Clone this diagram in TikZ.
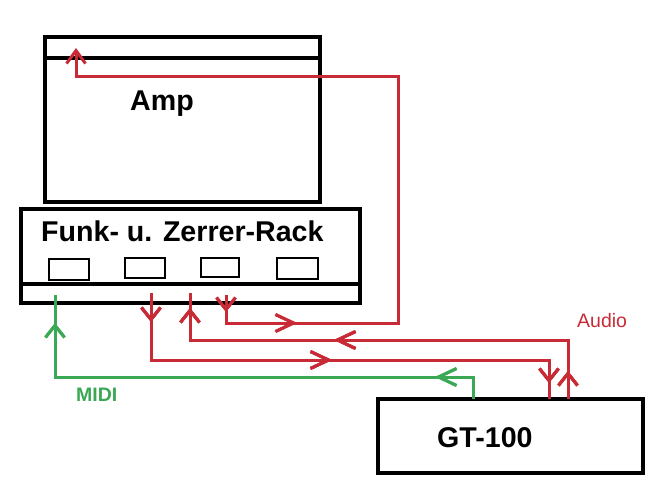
\documentclass[tikz,border=0pt]{standalone}
\usepackage{fontspec}
\setmainfont{Liberation Sans}
\usetikzlibrary{arrows.meta,decorations.markings}
\definecolor{cred}{RGB}{200,42,54}
\definecolor{cgreen}{RGB}{58,168,84}
\tikzset{
  box/.style={draw=black, line width=3.2pt, rectangle, inner sep=0pt},
  port/.style={draw=black, line width=2.6pt, rectangle, inner sep=0pt},
  lbl/.style={anchor=base west, inner sep=0pt, font=\fontsize{28.6}{30}\selectfont\bfseries},
  wire/.style={line width=3pt},
  tip/.style={-{Straight Barb[length=13pt,width=19pt]}},
  arrowat/.style={postaction={decorate}, decoration={markings,
     mark=at position #1 with {\arrow{Straight Barb[length=12pt,width=19pt]}}}},
  harrowat/.style={postaction={decorate}, decoration={markings,
     mark=at position #1 with {\arrow{Straight Barb[length=18pt,width=17pt]}}}},
}
\begin{document}
\begin{tikzpicture}[x=1pt,y=-1pt]
\useasboundingbox (0,0) rectangle (663,493);
% boxes
\node[box, minimum width=275pt, minimum height=165pt] (amp) at (182.5,119.5) {};
\node[box, minimum width=339pt, minimum height=94pt] (rack) at (190.5,256) {};
\node[box, minimum width=265pt, minimum height=74pt] (gt) at (510.5,436) {};
\draw[line width=3.2pt] (45,58) -- (320,58);
\draw[line width=3.2pt] (21,284) -- (362,284);
% ports
\node[port, minimum width=40pt, minimum height=21pt] (q1) at (69,269.5) {};
\node[port, minimum width=40pt, minimum height=20pt] (q2) at (145,268) {};
\node[port, minimum width=38pt, minimum height=19pt] (q3) at (220,267.5) {};
\node[port, minimum width=41pt, minimum height=21pt] (q4) at (297.5,268.5) {};
% labels
\node[lbl] (tamp) at (130,110) {Amp};
\node[lbl] (track) at (41,241) {Funk- u. Zerrer-Rack};
\node[lbl] (tgt) at (437,447) {GT-100};
\node[anchor=base west, inner sep=0pt, text=cred, font=\fontsize{19.5}{21}\selectfont] (taudio) at (577,327) {Audio};
\node[anchor=base west, inner sep=0pt, text=cgreen, font=\fontsize{19.5}{21}\selectfont\bfseries] (tmidi) at (76,401) {MIDI};
% connector end points
\coordinate (r1) at (151,293);
\coordinate (r2) at (190,293);
\coordinate (r3) at (226,295);
\coordinate (rm) at (55,295);
\coordinate (g1) at (549,399);
\coordinate (g2) at (568,399);
\coordinate (gm) at (473,399);
\coordinate (ain) at (76,48);
% red wires
\draw[cred, wire, arrowat=29pt, harrowat=248pt, arrowat=488pt]
  (r1) |- (g1 |- 0,360) -- (g1);
\draw[cred, wire, arrowat=28pt, harrowat=293pt, arrowat=469pt]
  (g2) |- (r2 |- 0,340) -- (r2);
\draw[cred, wire, arrowat=17pt, harrowat=99pt, tip]
  (r3) |- (398,323) -- (398,76) -| (ain);
% green wire
\draw[cgreen, wire, harrowat=60pt, arrowat=494pt]
  (gm) |- (rm |- 0,377) -- (rm);
\end{tikzpicture}
\end{document}
